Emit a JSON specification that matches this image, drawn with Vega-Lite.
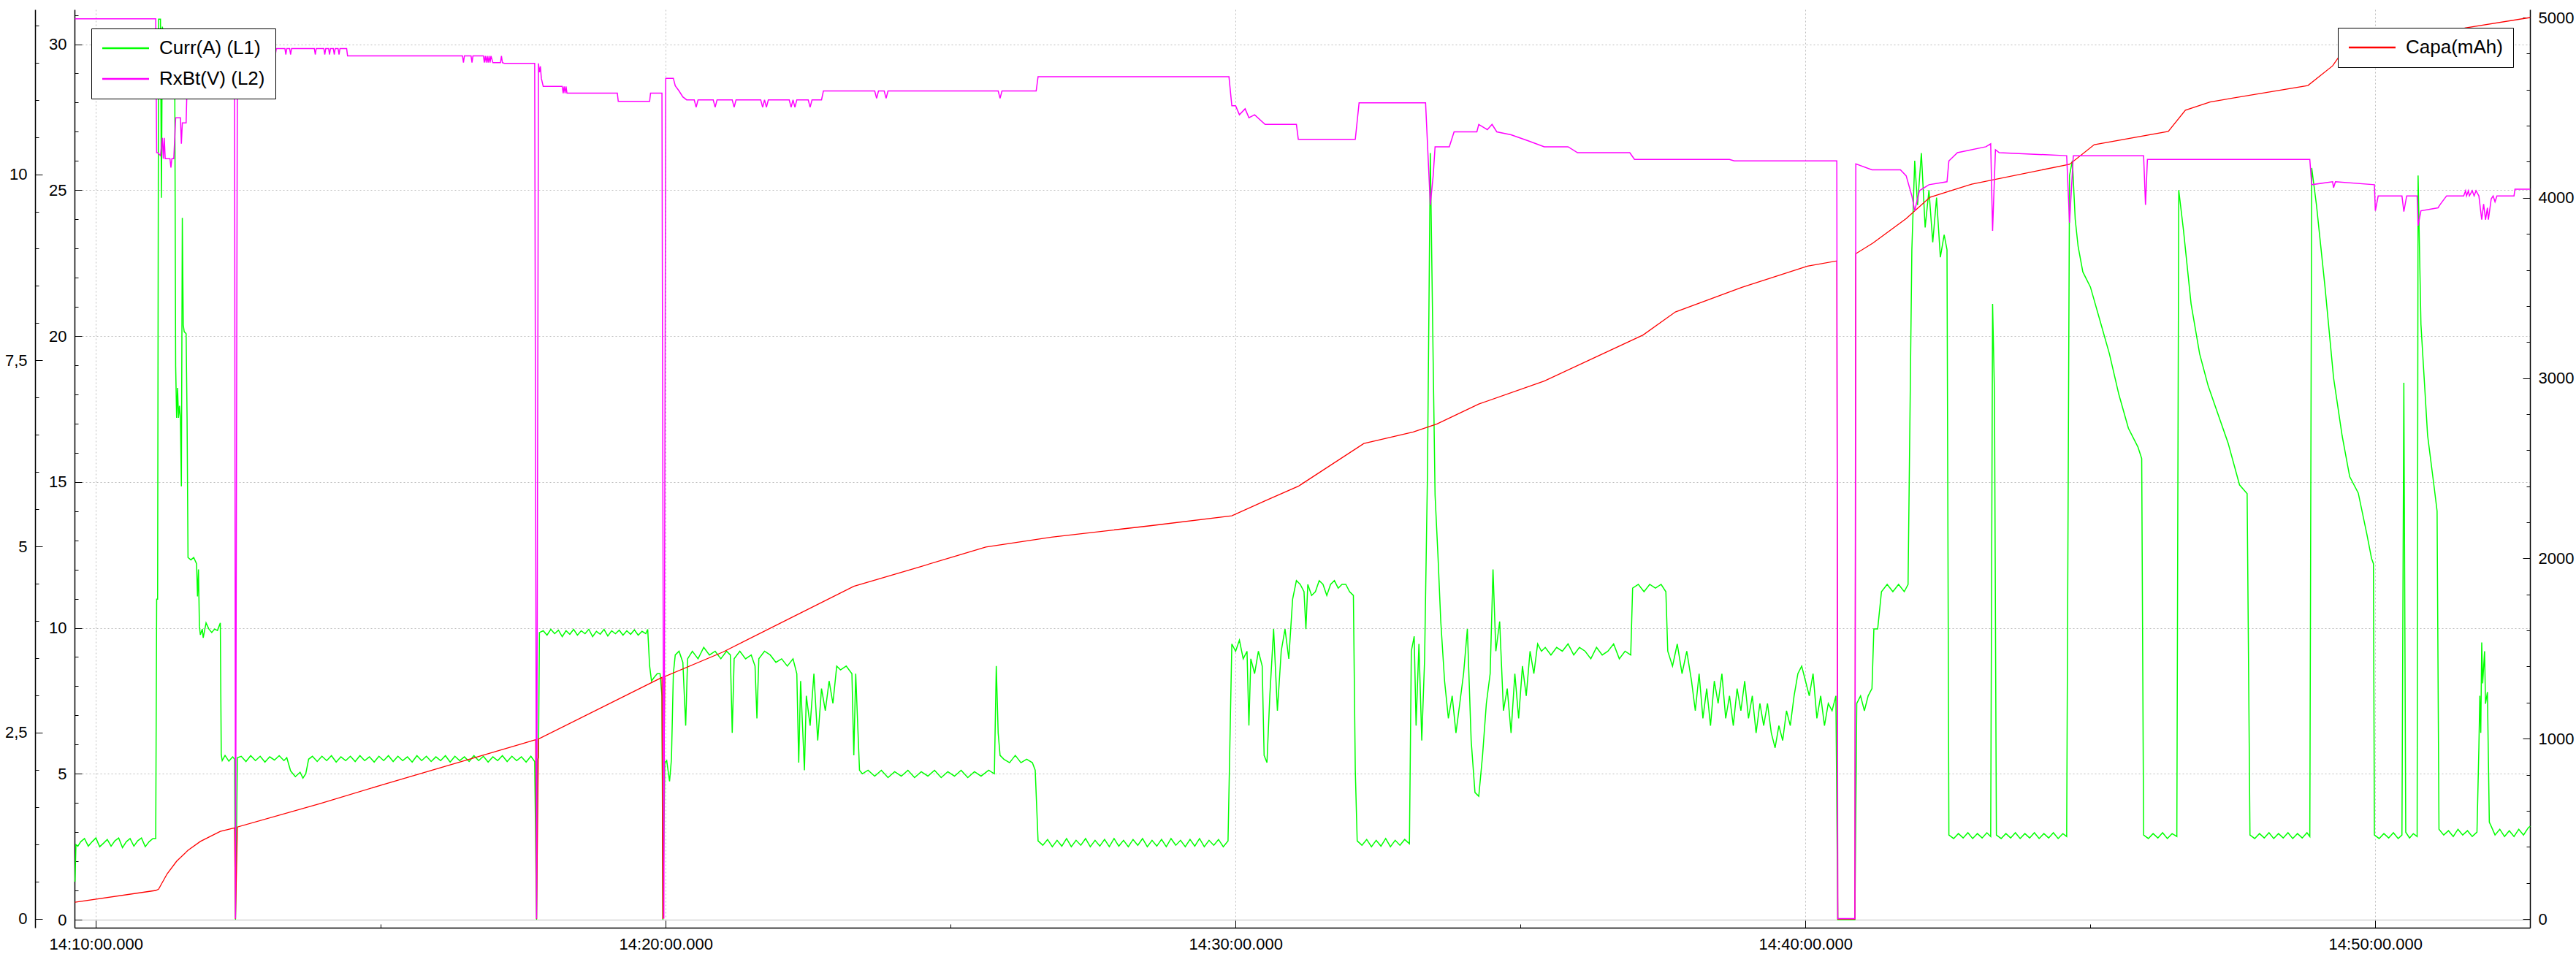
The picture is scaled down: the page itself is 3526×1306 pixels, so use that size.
{
  "$schema": "https://vega.github.io/schema/vega-lite/v6.json",
  "width": 3361,
  "height": 1257,
  "autosize": {"type": "none"},
  "padding": {"left": 102, "top": 13, "right": 63, "bottom": 36},
  "background": "white",
  "config": {
    "view": {"stroke": null},
    "axis": {"labelFont": "Liberation Sans", "labelFontSize": 22, "labelColor": "black", "domainColor": "black", "tickColor": "black", "domainWidth": 1.5, "tickWidth": 1, "labelOverlap": false, "labelFlush": false, "title": null},
    "legend": {"labelFont": "Liberation Sans", "labelFontSize": 26, "labelColor": "black"}
  },
  "datasets": {
    "curr": [
      {"time":"14:09:38","curr":1.30},{"time":"14:09:39","curr":2.57},{"time":"14:09:41","curr":2.52},{"time":"14:09:44","curr":2.67},{"time":"14:09:48","curr":2.78},{"time":"14:09:52","curr":2.52},{"time":"14:09:56","curr":2.67},{"time":"14:10:00","curr":2.80},{"time":"14:10:04","curr":2.50},{"time":"14:10:08","curr":2.62},{"time":"14:10:12","curr":2.75},{"time":"14:10:16","curr":2.52},{"time":"14:10:20","curr":2.70},{"time":"14:10:24","curr":2.80},{"time":"14:10:28","curr":2.47},{"time":"14:10:32","curr":2.67},{"time":"14:10:36","curr":2.78},{"time":"14:10:40","curr":2.52},{"time":"14:10:44","curr":2.70},{"time":"14:10:48","curr":2.80},{"time":"14:10:52","curr":2.50},{"time":"14:10:56","curr":2.67},{"time":"14:11:00","curr":2.78},{"time":"14:11:03","curr":2.78},
      {"time":"14:11:04","curr":10.98},{"time":"14:11:05","curr":10.98},{"time":"14:11:06","curr":30.86},{"time":"14:11:08","curr":30.86},{"time":"14:11:09","curr":24.74},{"time":"14:11:10","curr":30.6},{"time":"14:11:12","curr":30.09},{"time":"14:11:16","curr":29.6},{"time":"14:11:20","curr":30.09},{"time":"14:11:23","curr":29.33},{"time":"14:11:24","curr":18.96},{"time":"14:11:25","curr":17.2},{"time":"14:11:26","curr":18.22},{"time":"14:11:27","curr":17.2},{"time":"14:11:28","curr":17.61},{"time":"14:11:29","curr":17.2},{"time":"14:11:30","curr":14.85},{"time":"14:11:31","curr":24.05},{"time":"14:11:32","curr":20.38},{"time":"14:11:33","curr":20.15},{"time":"14:11:35","curr":20.08},{"time":"14:11:36","curr":17.2},{"time":"14:11:37","curr":12.41},{"time":"14:11:40","curr":12.33},{"time":"14:11:43","curr":12.41},{"time":"14:11:46","curr":12.2},{"time":"14:11:47","curr":11.08},{"time":"14:11:48","curr":12.0},{"time":"14:11:49","curr":10.06},{"time":"14:11:50","curr":9.76},{"time":"14:11:52","curr":9.96},{"time":"14:11:53","curr":9.66},{"time":"14:11:56","curr":10.17},{"time":"14:11:59","curr":9.96},{"time":"14:12:02","curr":9.84},{"time":"14:12:05","curr":9.96},{"time":"14:12:08","curr":9.91},{"time":"14:12:11","curr":10.17},
      {"time":"14:12:12","curr":5.66},{"time":"14:12:13","curr":5.45},{"time":"14:12:16","curr":5.63},{"time":"14:12:20","curr":5.43},{"time":"14:12:24","curr":5.58},{"time":"14:12:26","curr":5.5},{"time":"14:12:27","curr":0},{"time":"14:12:29","curr":5.55},{"time":"14:12:33","curr":5.6},{"time":"14:12:38","curr":5.42},{"time":"14:12:43","curr":5.62},{"time":"14:12:48","curr":5.45},{"time":"14:12:53","curr":5.6},{"time":"14:12:58","curr":5.4},{"time":"14:13:03","curr":5.58},{"time":"14:13:08","curr":5.47},{"time":"14:13:13","curr":5.62},{"time":"14:13:18","curr":5.45},{"time":"14:13:21","curr":5.55},{"time":"14:13:25","curr":5.1},{"time":"14:13:30","curr":4.9},{"time":"14:13:35","curr":5.05},{"time":"14:13:38","curr":4.85},{"time":"14:13:41","curr":5.0},{"time":"14:13:44","curr":5.5},{"time":"14:13:48","curr":5.6},{"time":"14:13:53","curr":5.42},{"time":"14:13:58","curr":5.6},{"time":"14:14:03","curr":5.45},{"time":"14:14:08","curr":5.62},{"time":"14:14:13","curr":5.4},{"time":"14:14:18","curr":5.58},{"time":"14:14:23","curr":5.45},{"time":"14:14:28","curr":5.6},{"time":"14:14:33","curr":5.42},{"time":"14:14:38","curr":5.62},{"time":"14:14:43","curr":5.45},{"time":"14:14:48","curr":5.58},{"time":"14:14:53","curr":5.4},{"time":"14:14:58","curr":5.6},{"time":"14:15:03","curr":5.45},{"time":"14:15:08","curr":5.62},{"time":"14:15:13","curr":5.42},{"time":"14:15:18","curr":5.6},{"time":"14:15:23","curr":5.45},{"time":"14:15:28","curr":5.58},{"time":"14:15:33","curr":5.4},{"time":"14:15:38","curr":5.62},{"time":"14:15:43","curr":5.45},{"time":"14:15:48","curr":5.6},{"time":"14:15:53","curr":5.42},{"time":"14:15:58","curr":5.58},{"time":"14:16:03","curr":5.45},{"time":"14:16:08","curr":5.62},{"time":"14:16:13","curr":5.4},{"time":"14:16:18","curr":5.6},{"time":"14:16:23","curr":5.45},{"time":"14:16:28","curr":5.58},{"time":"14:16:33","curr":5.42},{"time":"14:16:38","curr":5.62},{"time":"14:16:43","curr":5.45},{"time":"14:16:48","curr":5.6},{"time":"14:16:53","curr":5.4},{"time":"14:16:58","curr":5.58},{"time":"14:17:03","curr":5.45},{"time":"14:17:08","curr":5.62},{"time":"14:17:13","curr":5.42},{"time":"14:17:18","curr":5.6},{"time":"14:17:23","curr":5.45},{"time":"14:17:28","curr":5.58},{"time":"14:17:33","curr":5.4},{"time":"14:17:38","curr":5.6},{"time":"14:17:42","curr":5.42},{"time":"14:17:44","curr":0},{"time":"14:17:45","curr":5.5},{"time":"14:17:46","curr":5.55},
      {"time":"14:17:47","curr":9.84},{"time":"14:17:51","curr":9.9},{"time":"14:17:55","curr":9.75},{"time":"14:17:59","curr":9.95},{"time":"14:18:03","curr":9.8},{"time":"14:18:07","curr":9.92},{"time":"14:18:11","curr":9.7},{"time":"14:18:15","curr":9.9},{"time":"14:18:19","curr":9.78},{"time":"14:18:23","curr":9.95},{"time":"14:18:27","curr":9.75},{"time":"14:18:31","curr":9.9},{"time":"14:18:35","curr":9.8},{"time":"14:18:39","curr":9.95},{"time":"14:18:43","curr":9.7},{"time":"14:18:47","curr":9.88},{"time":"14:18:51","curr":9.78},{"time":"14:18:55","curr":9.95},{"time":"14:18:59","curr":9.72},{"time":"14:19:03","curr":9.9},{"time":"14:19:07","curr":9.8},{"time":"14:19:11","curr":9.92},{"time":"14:19:15","curr":9.75},{"time":"14:19:19","curr":9.9},{"time":"14:19:23","curr":9.78},{"time":"14:19:27","curr":9.93},{"time":"14:19:31","curr":9.75},{"time":"14:19:35","curr":9.88},{"time":"14:19:39","curr":9.8},{"time":"14:19:41","curr":9.95},{"time":"14:19:43","curr":8.7},{"time":"14:19:45","curr":8.18},{"time":"14:19:48","curr":8.31},{"time":"14:19:51","curr":8.43},{"time":"14:19:54","curr":8.43},{"time":"14:19:56","curr":7.67},{"time":"14:19:57","curr":0},{"time":"14:19:59","curr":5.38},{"time":"14:20:01","curr":5.45},{"time":"14:20:04","curr":4.74},{"time":"14:20:06","curr":5.5},
      {"time":"14:20:08","curr":8.43},{"time":"14:20:10","curr":9.07},{"time":"14:20:14","curr":9.2},{"time":"14:20:18","curr":8.82},{"time":"14:20:21","curr":6.65},{"time":"14:20:23","curr":8.94},{"time":"14:20:28","curr":9.2},{"time":"14:20:34","curr":8.94},{"time":"14:20:40","curr":9.33},{"time":"14:20:46","curr":9.07},{"time":"14:20:52","curr":9.2},{"time":"14:20:58","curr":8.94},{"time":"14:21:04","curr":9.2},{"time":"14:21:08","curr":9.07},{"time":"14:21:10","curr":6.4},{"time":"14:21:12","curr":8.94},{"time":"14:21:18","curr":9.2},{"time":"14:21:24","curr":8.94},{"time":"14:21:30","curr":9.07},{"time":"14:21:34","curr":8.69},{"time":"14:21:36","curr":6.9},{"time":"14:21:38","curr":8.94},{"time":"14:21:44","curr":9.2},{"time":"14:21:50","curr":9.07},{"time":"14:21:56","curr":8.82},{"time":"14:22:02","curr":8.94},{"time":"14:22:08","curr":8.69},{"time":"14:22:14","curr":8.94},{"time":"14:22:18","curr":8.43},{"time":"14:22:20","curr":5.38},{"time":"14:22:22","curr":8.18},{"time":"14:22:26","curr":5.12},{"time":"14:22:28","curr":7.67},{"time":"14:22:32","curr":6.65},{"time":"14:22:36","curr":8.43},{"time":"14:22:40","curr":6.14},{"time":"14:22:44","curr":7.92},{"time":"14:22:48","curr":7.16},{"time":"14:22:52","curr":8.18},{"time":"14:22:56","curr":7.41},{"time":"14:23:00","curr":8.69},{"time":"14:23:04","curr":8.56},{"time":"14:23:10","curr":8.69},{"time":"14:23:16","curr":8.43},{"time":"14:23:18","curr":5.63},{"time":"14:23:20","curr":8.43},{"time":"14:23:24","curr":5.12},
      {"time":"14:23:27","curr":5.0},{"time":"14:23:33","curr":5.12},{"time":"14:23:40","curr":4.92},{"time":"14:23:47","curr":5.12},{"time":"14:23:54","curr":4.87},{"time":"14:24:01","curr":5.07},{"time":"14:24:08","curr":4.92},{"time":"14:24:15","curr":5.12},{"time":"14:24:22","curr":4.87},{"time":"14:24:29","curr":5.07},{"time":"14:24:36","curr":4.92},{"time":"14:24:43","curr":5.12},{"time":"14:24:50","curr":4.87},{"time":"14:24:57","curr":5.07},{"time":"14:25:04","curr":4.92},{"time":"14:25:11","curr":5.12},{"time":"14:25:18","curr":4.87},{"time":"14:25:25","curr":5.07},{"time":"14:25:32","curr":4.92},{"time":"14:25:40","curr":5.12},{"time":"14:25:46","curr":5.0},{"time":"14:25:48","curr":8.69},{"time":"14:25:50","curr":6.4},{"time":"14:25:52","curr":5.63},{"time":"14:25:56","curr":5.5},{"time":"14:26:02","curr":5.38},{"time":"14:26:08","curr":5.63},{"time":"14:26:14","curr":5.38},{"time":"14:26:20","curr":5.5},{"time":"14:26:26","curr":5.38},{"time":"14:26:29","curr":5.12},
      {"time":"14:26:32","curr":2.7},{"time":"14:26:37","curr":2.55},{"time":"14:26:42","curr":2.75},{"time":"14:26:47","curr":2.5},{"time":"14:26:52","curr":2.72},{"time":"14:26:57","curr":2.52},{"time":"14:27:02","curr":2.78},{"time":"14:27:07","curr":2.5},{"time":"14:27:12","curr":2.72},{"time":"14:27:17","curr":2.55},{"time":"14:27:22","curr":2.78},{"time":"14:27:27","curr":2.5},{"time":"14:27:32","curr":2.72},{"time":"14:27:37","curr":2.52},{"time":"14:27:42","curr":2.75},{"time":"14:27:47","curr":2.5},{"time":"14:27:52","curr":2.78},{"time":"14:27:57","curr":2.52},{"time":"14:28:02","curr":2.72},{"time":"14:28:07","curr":2.5},{"time":"14:28:12","curr":2.75},{"time":"14:28:17","curr":2.55},{"time":"14:28:22","curr":2.78},{"time":"14:28:27","curr":2.5},{"time":"14:28:32","curr":2.72},{"time":"14:28:37","curr":2.52},{"time":"14:28:42","curr":2.75},{"time":"14:28:47","curr":2.5},{"time":"14:28:52","curr":2.78},{"time":"14:28:57","curr":2.55},{"time":"14:29:02","curr":2.72},{"time":"14:29:07","curr":2.5},{"time":"14:29:12","curr":2.75},{"time":"14:29:17","curr":2.52},{"time":"14:29:22","curr":2.78},{"time":"14:29:27","curr":2.5},{"time":"14:29:32","curr":2.72},{"time":"14:29:37","curr":2.55},{"time":"14:29:42","curr":2.75},{"time":"14:29:47","curr":2.5},{"time":"14:29:52","curr":2.7},
      {"time":"14:29:56","curr":9.45},{"time":"14:30:00","curr":9.2},{"time":"14:30:04","curr":9.58},{"time":"14:30:08","curr":8.94},{"time":"14:30:12","curr":9.2},{"time":"14:30:14","curr":6.65},{"time":"14:30:16","curr":8.94},{"time":"14:30:20","curr":8.43},{"time":"14:30:24","curr":9.2},{"time":"14:30:28","curr":8.69},{"time":"14:30:30","curr":5.63},{"time":"14:30:33","curr":5.38},{"time":"14:30:36","curr":7.67},{"time":"14:30:40","curr":9.96},{"time":"14:30:44","curr":7.16},{"time":"14:30:48","curr":9.2},{"time":"14:30:52","curr":9.96},{"time":"14:30:56","curr":8.94},{"time":"14:31:00","curr":10.98},{"time":"14:31:04","curr":11.62},{"time":"14:31:08","curr":11.49},{"time":"14:31:12","curr":11.24},{"time":"14:31:14","curr":9.96},{"time":"14:31:16","curr":11.49},{"time":"14:31:20","curr":11.11},{"time":"14:31:24","curr":11.24},{"time":"14:31:28","curr":11.62},{"time":"14:31:32","curr":11.49},{"time":"14:31:36","curr":11.11},{"time":"14:31:40","curr":11.49},{"time":"14:31:44","curr":11.62},{"time":"14:31:48","curr":11.36},{"time":"14:31:52","curr":11.49},{"time":"14:31:56","curr":11.49},{"time":"14:32:00","curr":11.24},{"time":"14:32:04","curr":11.11},{"time":"14:32:06","curr":5.12},
      {"time":"14:32:08","curr":2.7},{"time":"14:32:13","curr":2.55},{"time":"14:32:18","curr":2.75},{"time":"14:32:23","curr":2.5},{"time":"14:32:28","curr":2.72},{"time":"14:32:33","curr":2.52},{"time":"14:32:38","curr":2.78},{"time":"14:32:43","curr":2.5},{"time":"14:32:48","curr":2.72},{"time":"14:32:53","curr":2.55},{"time":"14:32:58","curr":2.75},{"time":"14:33:03","curr":2.6},
      {"time":"14:33:05","curr":9.2},{"time":"14:33:08","curr":9.71},{"time":"14:33:10","curr":6.65},{"time":"14:33:13","curr":9.45},{"time":"14:33:16","curr":6.14},{"time":"14:33:19","curr":8.94},{"time":"14:33:22","curr":15.31},{"time":"14:33:25","curr":26.27},{"time":"14:33:28","curr":19.13},{"time":"14:33:30","curr":14.55},{"time":"14:33:33","curr":12.51},{"time":"14:33:36","curr":10.22},{"time":"14:33:40","curr":8.18},{"time":"14:33:44","curr":6.9},{"time":"14:33:48","curr":7.67},{"time":"14:33:52","curr":6.4},{"time":"14:33:56","curr":7.41},{"time":"14:34:00","curr":8.43},{"time":"14:34:04","curr":9.96},{"time":"14:34:08","curr":6.14},{"time":"14:34:12","curr":4.36},{"time":"14:34:16","curr":4.23},{"time":"14:34:20","curr":5.63},{"time":"14:34:24","curr":7.41},{"time":"14:34:28","curr":8.43},{"time":"14:34:31","curr":12.0},{"time":"14:34:34","curr":9.2},{"time":"14:34:38","curr":10.22},{"time":"14:34:42","curr":7.16},{"time":"14:34:46","curr":7.92},{"time":"14:34:50","curr":6.4},{"time":"14:34:54","curr":8.43},{"time":"14:34:58","curr":6.9},{"time":"14:35:02","curr":8.69},{"time":"14:35:06","curr":7.67},{"time":"14:35:10","curr":9.2},{"time":"14:35:14","curr":8.43},{"time":"14:35:18","curr":9.45},{"time":"14:35:22","curr":9.2},{"time":"14:35:26","curr":9.33},{"time":"14:35:32","curr":9.07},{"time":"14:35:38","curr":9.33},{"time":"14:35:44","curr":9.2},{"time":"14:35:50","curr":9.45},{"time":"14:35:56","curr":9.07},{"time":"14:36:02","curr":9.33},{"time":"14:36:08","curr":9.2},{"time":"14:36:14","curr":8.94},{"time":"14:36:20","curr":9.33},{"time":"14:36:26","curr":9.07},{"time":"14:36:32","curr":9.2},{"time":"14:36:38","curr":9.45},{"time":"14:36:44","curr":8.94},{"time":"14:36:50","curr":9.2},{"time":"14:36:56","curr":9.07},{"time":"14:36:58","curr":11.36},{"time":"14:37:04","curr":11.49},{"time":"14:37:10","curr":11.24},{"time":"14:37:16","curr":11.49},{"time":"14:37:22","curr":11.36},{"time":"14:37:28","curr":11.49},{"time":"14:37:33","curr":11.24},{"time":"14:37:35","curr":9.2},{"time":"14:37:40","curr":8.69},{"time":"14:37:45","curr":9.45},{"time":"14:37:50","curr":8.43},{"time":"14:37:55","curr":9.2},{"time":"14:38:00","curr":8.18},{"time":"14:38:04","curr":7.16},{"time":"14:38:08","curr":8.43},{"time":"14:38:12","curr":6.9},{"time":"14:38:16","curr":7.92},{"time":"14:38:20","curr":6.65},{"time":"14:38:24","curr":8.18},{"time":"14:38:28","curr":7.41},{"time":"14:38:32","curr":8.43},{"time":"14:38:36","curr":6.9},{"time":"14:38:40","curr":7.67},{"time":"14:38:44","curr":6.65},{"time":"14:38:48","curr":7.92},{"time":"14:38:52","curr":7.16},{"time":"14:38:56","curr":8.18},{"time":"14:39:00","curr":6.9},{"time":"14:39:04","curr":7.67},{"time":"14:39:08","curr":6.4},{"time":"14:39:12","curr":7.41},{"time":"14:39:16","curr":6.65},{"time":"14:39:20","curr":7.41},{"time":"14:39:24","curr":6.4},{"time":"14:39:28","curr":5.89},{"time":"14:39:32","curr":6.65},{"time":"14:39:36","curr":6.14},{"time":"14:39:40","curr":7.16},{"time":"14:39:44","curr":6.65},{"time":"14:39:48","curr":7.67},{"time":"14:39:52","curr":8.43},{"time":"14:39:56","curr":8.69},{"time":"14:40:00","curr":8.18},{"time":"14:40:04","curr":7.67},{"time":"14:40:08","curr":8.43},{"time":"14:40:12","curr":6.9},{"time":"14:40:16","curr":7.67},{"time":"14:40:20","curr":6.65},{"time":"14:40:24","curr":7.41},{"time":"14:40:28","curr":7.16},{"time":"14:40:32","curr":7.67},{"time":"14:40:34","curr":0},{"time":"14:40:52","curr":0},
      {"time":"14:40:54","curr":7.41},{"time":"14:40:58","curr":7.67},{"time":"14:41:02","curr":7.16},{"time":"14:41:06","curr":7.67},{"time":"14:41:10","curr":7.92},{"time":"14:41:12","curr":9.96},{"time":"14:41:16","curr":9.96},{"time":"14:41:20","curr":11.24},{"time":"14:41:26","curr":11.49},{"time":"14:41:32","curr":11.24},{"time":"14:41:38","curr":11.49},{"time":"14:41:44","curr":11.24},{"time":"14:41:48","curr":11.49},{"time":"14:41:52","curr":22.96},{"time":"14:41:55","curr":26.01},{"time":"14:41:58","curr":24.49},{"time":"14:42:02","curr":26.27},{"time":"14:42:06","curr":23.72},{"time":"14:42:10","curr":25.0},{"time":"14:42:14","curr":23.21},{"time":"14:42:18","curr":24.74},{"time":"14:42:22","curr":22.7},{"time":"14:42:26","curr":23.47},{"time":"14:42:29","curr":22.96},
      {"time":"14:42:31","curr":2.9},{"time":"14:42:36","curr":2.78},{"time":"14:42:41","curr":2.95},{"time":"14:42:46","curr":2.8},{"time":"14:42:51","curr":2.98},{"time":"14:42:56","curr":2.78},{"time":"14:43:01","curr":2.95},{"time":"14:43:06","curr":2.8},{"time":"14:43:11","curr":2.98},{"time":"14:43:15","curr":2.85},{"time":"14:43:17","curr":21.1},{"time":"14:43:19","curr":18.0},{"time":"14:43:21","curr":2.9},{"time":"14:43:26","curr":2.78},{"time":"14:43:31","curr":2.95},{"time":"14:43:36","curr":2.8},{"time":"14:43:41","curr":2.98},{"time":"14:43:46","curr":2.78},{"time":"14:43:51","curr":2.95},{"time":"14:43:56","curr":2.8},{"time":"14:44:01","curr":2.98},{"time":"14:44:06","curr":2.78},{"time":"14:44:11","curr":2.95},{"time":"14:44:16","curr":2.8},{"time":"14:44:21","curr":2.98},{"time":"14:44:26","curr":2.78},{"time":"14:44:31","curr":2.95},{"time":"14:44:35","curr":2.85},
      {"time":"14:44:38","curr":25.5},{"time":"14:44:41","curr":26.01},{"time":"14:44:44","curr":24.0},{"time":"14:44:47","curr":23.08},{"time":"14:44:52","curr":22.2},{"time":"14:45:00","curr":21.68},{"time":"14:45:10","curr":20.54},{"time":"14:45:20","curr":19.39},{"time":"14:45:30","curr":17.99},{"time":"14:45:40","curr":16.84},{"time":"14:45:50","curr":16.2},{"time":"14:45:54","curr":15.8},{"time":"14:45:56","curr":2.9},{"time":"14:46:01","curr":2.78},{"time":"14:46:06","curr":2.95},{"time":"14:46:11","curr":2.8},{"time":"14:46:16","curr":2.98},{"time":"14:46:21","curr":2.78},{"time":"14:46:26","curr":2.95},{"time":"14:46:31","curr":2.85},
      {"time":"14:46:33","curr":25.0},{"time":"14:46:38","curr":23.62},{"time":"14:46:46","curr":21.1},{"time":"14:46:55","curr":19.39},{"time":"14:47:04","curr":18.29},{"time":"14:47:13","curr":17.45},{"time":"14:47:25","curr":16.33},{"time":"14:47:37","curr":14.9},{"time":"14:47:45","curr":14.6},{"time":"14:47:48","curr":2.9},{"time":"14:47:53","curr":2.78},{"time":"14:47:58","curr":2.95},{"time":"14:48:03","curr":2.8},{"time":"14:48:08","curr":2.98},{"time":"14:48:13","curr":2.78},{"time":"14:48:18","curr":2.95},{"time":"14:48:23","curr":2.8},{"time":"14:48:28","curr":2.98},{"time":"14:48:33","curr":2.78},{"time":"14:48:38","curr":2.95},{"time":"14:48:43","curr":2.8},{"time":"14:48:48","curr":2.98},{"time":"14:48:51","curr":2.85},
      {"time":"14:48:53","curr":25.76},{"time":"14:48:58","curr":24.49},{"time":"14:49:07","curr":21.68},{"time":"14:49:16","curr":18.57},{"time":"14:49:25","curr":16.59},{"time":"14:49:33","curr":15.18},{"time":"14:49:42","curr":14.62},{"time":"14:49:51","curr":13.22},{"time":"14:49:56","curr":12.38},{"time":"14:49:58","curr":12.2},{"time":"14:49:59","curr":2.9},{"time":"14:50:04","curr":2.78},{"time":"14:50:09","curr":2.95},{"time":"14:50:14","curr":2.8},{"time":"14:50:19","curr":2.98},{"time":"14:50:24","curr":2.78},{"time":"14:50:28","curr":2.9},{"time":"14:50:30","curr":18.4},{"time":"14:50:32","curr":3.0},{"time":"14:50:36","curr":2.8},{"time":"14:50:40","curr":2.95},{"time":"14:50:44","curr":2.85},
      {"time":"14:50:45","curr":25.5},{"time":"14:50:48","curr":20.4},{"time":"14:50:55","curr":16.6},{"time":"14:51:02","curr":14.8},{"time":"14:51:05","curr":14.0},{"time":"14:51:07","curr":3.1},{"time":"14:51:12","curr":2.9},{"time":"14:51:17","curr":3.05},{"time":"14:51:22","curr":2.85},{"time":"14:51:27","curr":3.1},{"time":"14:51:32","curr":2.9},{"time":"14:51:37","curr":3.05},{"time":"14:51:42","curr":2.85},{"time":"14:51:47","curr":3.0},{"time":"14:51:49","curr":5.89},{"time":"14:51:50","curr":7.67},{"time":"14:51:51","curr":6.4},{"time":"14:51:52","curr":9.5},{"time":"14:51:53","curr":8.1},{"time":"14:51:55","curr":9.2},{"time":"14:51:56","curr":7.4},{"time":"14:51:58","curr":7.8},{"time":"14:52:00","curr":3.34},{"time":"14:52:02","curr":3.2},{"time":"14:52:06","curr":2.9},{"time":"14:52:11","curr":3.1},{"time":"14:52:16","curr":2.85},{"time":"14:52:21","curr":3.05},{"time":"14:52:26","curr":2.85},{"time":"14:52:31","curr":3.1},{"time":"14:52:36","curr":2.9},{"time":"14:52:41","curr":3.15},{"time":"14:52:43","curr":3.2}
    ],
    "rxbt": [
      {"time":"14:09:38","rxbt":12.09},{"time":"14:11:03","rxbt":12.09},{"time":"14:11:04","rxbt":10.29},{"time":"14:11:05","rxbt":10.29},{"time":"14:11:08","rxbt":10.25},{"time":"14:11:10","rxbt":10.49},{"time":"14:11:11","rxbt":10.21},{"time":"14:11:12","rxbt":10.49},{"time":"14:11:13","rxbt":10.21},{"time":"14:11:18","rxbt":10.21},{"time":"14:11:19","rxbt":10.09},{"time":"14:11:20","rxbt":10.21},{"time":"14:11:22","rxbt":10.21},{"time":"14:11:24","rxbt":10.76},{"time":"14:11:29","rxbt":10.76},{"time":"14:11:30","rxbt":10.41},{"time":"14:11:31","rxbt":10.69},{"time":"14:11:35","rxbt":10.69},{"time":"14:11:37","rxbt":11.69},{"time":"14:12:26","rxbt":11.69},{"time":"14:12:27","rxbt":0},{"time":"14:12:29","rxbt":11.69},
      {"time":"14:13:08","rxbt":11.69},{"time":"14:13:09","rxbt":11.61},{"time":"14:13:10","rxbt":11.69},{"time":"14:13:19","rxbt":11.69},{"time":"14:13:20","rxbt":11.61},{"time":"14:13:21","rxbt":11.69},{"time":"14:13:24","rxbt":11.69},{"time":"14:13:25","rxbt":11.61},{"time":"14:13:26","rxbt":11.69},{"time":"14:13:50","rxbt":11.69},{"time":"14:13:51","rxbt":11.61},{"time":"14:13:52","rxbt":11.69},{"time":"14:14:00","rxbt":11.69},{"time":"14:14:01","rxbt":11.61},{"time":"14:14:02","rxbt":11.69},{"time":"14:14:05","rxbt":11.69},{"time":"14:14:06","rxbt":11.61},{"time":"14:14:07","rxbt":11.69},{"time":"14:14:10","rxbt":11.69},{"time":"14:14:11","rxbt":11.61},{"time":"14:14:12","rxbt":11.69},{"time":"14:14:15","rxbt":11.69},{"time":"14:14:16","rxbt":11.61},{"time":"14:14:17","rxbt":11.69},{"time":"14:14:24","rxbt":11.69},{"time":"14:14:25","rxbt":11.59},
      {"time":"14:16:26","rxbt":11.59},{"time":"14:16:27","rxbt":11.5},{"time":"14:16:28","rxbt":11.59},{"time":"14:16:35","rxbt":11.59},{"time":"14:16:36","rxbt":11.5},{"time":"14:16:37","rxbt":11.59},{"time":"14:16:48","rxbt":11.59},{"time":"14:16:49","rxbt":11.5},{"time":"14:16:50","rxbt":11.59},{"time":"14:16:51","rxbt":11.5},{"time":"14:16:52","rxbt":11.59},{"time":"14:16:53","rxbt":11.5},{"time":"14:16:54","rxbt":11.59},{"time":"14:16:55","rxbt":11.5},{"time":"14:16:56","rxbt":11.59},{"time":"14:16:58","rxbt":11.5},{"time":"14:17:00","rxbt":11.5},{"time":"14:17:06","rxbt":11.5},{"time":"14:17:07","rxbt":11.59},{"time":"14:17:08","rxbt":11.5},{"time":"14:17:10","rxbt":11.49},{"time":"14:17:42","rxbt":11.49},{"time":"14:17:44","rxbt":0},{"time":"14:17:46","rxbt":11.49},{"time":"14:17:47","rxbt":11.37},{"time":"14:17:48","rxbt":11.45},{"time":"14:17:49","rxbt":11.29},{"time":"14:17:51","rxbt":11.18},{"time":"14:18:11","rxbt":11.18},{"time":"14:18:12","rxbt":11.09},{"time":"14:18:13","rxbt":11.18},{"time":"14:18:14","rxbt":11.09},{"time":"14:18:15","rxbt":11.18},{"time":"14:18:16","rxbt":11.09},{"time":"14:19:09","rxbt":11.09},{"time":"14:19:10","rxbt":10.98},{"time":"14:19:43","rxbt":10.98},{"time":"14:19:44","rxbt":11.09},{"time":"14:19:56","rxbt":11.09},{"time":"14:19:58","rxbt":0},{"time":"14:20:00","rxbt":11.29},
      {"time":"14:20:08","rxbt":11.29},{"time":"14:20:10","rxbt":11.19},{"time":"14:20:14","rxbt":11.12},{"time":"14:20:18","rxbt":11.04},{"time":"14:20:22","rxbt":11.0},{"time":"14:20:30","rxbt":11.0},{"time":"14:20:32","rxbt":10.9},{"time":"14:20:34","rxbt":11.0},{"time":"14:20:50","rxbt":11.0},{"time":"14:20:52","rxbt":10.9},{"time":"14:20:54","rxbt":11.0},{"time":"14:21:10","rxbt":11.0},{"time":"14:21:12","rxbt":10.9},{"time":"14:21:14","rxbt":11.0},{"time":"14:21:40","rxbt":11.0},{"time":"14:21:42","rxbt":10.9},{"time":"14:21:44","rxbt":11.0},{"time":"14:21:46","rxbt":10.9},{"time":"14:21:48","rxbt":11.0},{"time":"14:22:10","rxbt":11.0},{"time":"14:22:12","rxbt":10.9},{"time":"14:22:14","rxbt":11.0},{"time":"14:22:16","rxbt":10.9},{"time":"14:22:18","rxbt":11.0},{"time":"14:22:30","rxbt":11.0},{"time":"14:22:32","rxbt":10.9},{"time":"14:22:34","rxbt":11.0},{"time":"14:22:44","rxbt":11.0},{"time":"14:22:46","rxbt":11.12},{"time":"14:23:40","rxbt":11.12},{"time":"14:23:42","rxbt":11.02},{"time":"14:23:44","rxbt":11.12},{"time":"14:23:50","rxbt":11.12},{"time":"14:23:52","rxbt":11.02},{"time":"14:23:54","rxbt":11.12},{"time":"14:25:50","rxbt":11.12},{"time":"14:25:52","rxbt":11.02},{"time":"14:25:54","rxbt":11.12},{"time":"14:26:30","rxbt":11.12},{"time":"14:26:32","rxbt":11.31},{"time":"14:29:53","rxbt":11.31},
      {"time":"14:29:56","rxbt":10.92},{"time":"14:30:00","rxbt":10.92},{"time":"14:30:04","rxbt":10.8},{"time":"14:30:10","rxbt":10.88},{"time":"14:30:14","rxbt":10.76},{"time":"14:30:20","rxbt":10.8},{"time":"14:30:31","rxbt":10.67},{"time":"14:31:04","rxbt":10.67},{"time":"14:31:06","rxbt":10.47},{"time":"14:32:06","rxbt":10.47},{"time":"14:32:10","rxbt":10.96},{"time":"14:33:20","rxbt":10.96},{"time":"14:33:25","rxbt":9.59},{"time":"14:33:28","rxbt":9.98},{"time":"14:33:30","rxbt":10.37},{"time":"14:33:45","rxbt":10.37},{"time":"14:33:50","rxbt":10.57},{"time":"14:34:14","rxbt":10.57},{"time":"14:34:16","rxbt":10.67},{"time":"14:34:25","rxbt":10.6},{"time":"14:34:30","rxbt":10.67},{"time":"14:34:35","rxbt":10.57},{"time":"14:34:50","rxbt":10.53},{"time":"14:35:08","rxbt":10.45},{"time":"14:35:25","rxbt":10.37},{"time":"14:35:50","rxbt":10.37},{"time":"14:36:00","rxbt":10.29},{"time":"14:36:55","rxbt":10.29},{"time":"14:37:00","rxbt":10.2},{"time":"14:38:40","rxbt":10.2},{"time":"14:38:45","rxbt":10.18},{"time":"14:40:33","rxbt":10.18},{"time":"14:40:34","rxbt":0},{"time":"14:40:52","rxbt":0},{"time":"14:40:53","rxbt":10.14},{"time":"14:41:10","rxbt":10.06},{"time":"14:41:40","rxbt":10.06},{"time":"14:41:46","rxbt":9.98},{"time":"14:41:52","rxbt":9.71},{"time":"14:41:55","rxbt":9.51},{"time":"14:42:00","rxbt":9.78},{"time":"14:42:10","rxbt":9.86},{"time":"14:42:29","rxbt":9.9},{"time":"14:42:31","rxbt":10.18},{"time":"14:42:40","rxbt":10.29},{"time":"14:43:10","rxbt":10.37},{"time":"14:43:15","rxbt":10.41},{"time":"14:43:17","rxbt":9.24},{"time":"14:43:20","rxbt":10.33},{"time":"14:43:24","rxbt":10.29},{"time":"14:44:35","rxbt":10.25},{"time":"14:44:38","rxbt":9.35},{"time":"14:44:42","rxbt":10.25},{"time":"14:45:56","rxbt":10.25},{"time":"14:45:58","rxbt":9.59},{"time":"14:46:00","rxbt":10.2},{"time":"14:48:51","rxbt":10.2},{"time":"14:48:53","rxbt":9.86},{"time":"14:49:15","rxbt":9.9},{"time":"14:49:16","rxbt":9.82},{"time":"14:49:18","rxbt":9.9},{"time":"14:49:59","rxbt":9.86},{"time":"14:50:00","rxbt":9.51},{"time":"14:50:03","rxbt":9.71},{"time":"14:50:28","rxbt":9.71},{"time":"14:50:30","rxbt":9.5},{"time":"14:50:33","rxbt":9.71},{"time":"14:50:44","rxbt":9.71},{"time":"14:50:45","rxbt":9.31},{"time":"14:50:48","rxbt":9.51},{"time":"14:51:06","rxbt":9.55},{"time":"14:51:08","rxbt":9.59},{"time":"14:51:15","rxbt":9.71},{"time":"14:51:33","rxbt":9.71},{"time":"14:51:35","rxbt":9.78},{"time":"14:51:36","rxbt":9.71},{"time":"14:51:38","rxbt":9.78},{"time":"14:51:39","rxbt":9.71},{"time":"14:51:42","rxbt":9.78},{"time":"14:51:44","rxbt":9.71},{"time":"14:51:46","rxbt":9.78},{"time":"14:51:49","rxbt":9.71},{"time":"14:51:52","rxbt":9.39},{"time":"14:51:54","rxbt":9.6},{"time":"14:51:56","rxbt":9.39},{"time":"14:51:58","rxbt":9.55},{"time":"14:51:59","rxbt":9.39},{"time":"14:52:02","rxbt":9.67},{"time":"14:52:04","rxbt":9.71},{"time":"14:52:06","rxbt":9.63},{"time":"14:52:08","rxbt":9.71},{"time":"14:52:26","rxbt":9.71},{"time":"14:52:27","rxbt":9.8},{"time":"14:52:43","rxbt":9.8}
    ],
    "capa": [
      {"time":"14:09:38","capa":93},{"time":"14:11:03","capa":158},{"time":"14:11:06","capa":165},{"time":"14:11:15","capa":250},{"time":"14:11:25","capa":320},{"time":"14:11:37","capa":381},{"time":"14:11:50","capa":430},{"time":"14:12:11","capa":486},{"time":"14:12:26","capa":505},{"time":"14:12:27","capa":0},{"time":"14:12:29","capa":510},{"time":"14:13:56","capa":640},{"time":"14:15:01","capa":743},{"time":"14:17:43","capa":994},{"time":"14:17:44","capa":0},{"time":"14:17:46","capa":998},{"time":"14:19:56","capa":1340},{"time":"14:19:57","capa":0},{"time":"14:19:59","capa":1345},{"time":"14:21:00","capa":1480},{"time":"14:22:09","capa":1663},{"time":"14:23:18","capa":1845},{"time":"14:24:28","capa":1954},{"time":"14:25:37","capa":2063},{"time":"14:26:46","capa":2118},{"time":"14:28:30","capa":2181},{"time":"14:29:56","capa":2236},{"time":"14:30:31","capa":2319},{"time":"14:31:06","capa":2400},{"time":"14:32:15","capa":2637},{"time":"14:33:07","capa":2701},{"time":"14:33:32","capa":2746},{"time":"14:34:16","capa":2856},{"time":"14:35:25","capa":2984},{"time":"14:36:17","capa":3111},{"time":"14:37:09","capa":3239},{"time":"14:37:43","capa":3367},{"time":"14:38:53","capa":3503},{"time":"14:40:02","capa":3621},{"time":"14:40:33","capa":3650},{"time":"14:40:34","capa":0},{"time":"14:40:52","capa":0},{"time":"14:40:53","capa":3690},{"time":"14:41:11","capa":3749},{"time":"14:41:46","capa":3885},{"time":"14:42:11","capa":4003},{"time":"14:42:55","capa":4076},{"time":"14:44:38","capa":4186},{"time":"14:45:04","capa":4295},{"time":"14:46:22","capa":4368},{"time":"14:46:40","capa":4486},{"time":"14:47:06","capa":4532},{"time":"14:48:49","capa":4623},{"time":"14:49:15","capa":4732},{"time":"14:49:33","capa":4868},{"time":"14:51:34","capa":4942},{"time":"14:52:43","capa":5000}
    ]
  },
  "encoding": {
    "x": {
      "field": "time",
      "type": "temporal",
      "scale": {"domain": [{"year": 1900, "month": 1, "date": 1, "hours": 14, "minutes": 9, "seconds": 37, "milliseconds": 500}, {"year": 1900, "month": 1, "date": 1, "hours": 14, "minutes": 52, "seconds": 42, "milliseconds": 800}]},
      "axis": {
        "orient": "bottom",
        "values": [
          {"year": 1900, "month": 1, "date": 1, "hours": 14, "minutes": 10},
          {"year": 1900, "month": 1, "date": 1, "hours": 14, "minutes": 15},
          {"year": 1900, "month": 1, "date": 1, "hours": 14, "minutes": 20},
          {"year": 1900, "month": 1, "date": 1, "hours": 14, "minutes": 25},
          {"year": 1900, "month": 1, "date": 1, "hours": 14, "minutes": 30},
          {"year": 1900, "month": 1, "date": 1, "hours": 14, "minutes": 35},
          {"year": 1900, "month": 1, "date": 1, "hours": 14, "minutes": 40},
          {"year": 1900, "month": 1, "date": 1, "hours": 14, "minutes": 45},
          {"year": 1900, "month": 1, "date": 1, "hours": 14, "minutes": 50}
        ],
        "labelExpr": "minutes(datum.value) % 10 === 0 ? timeFormat(datum.value, '%H:%M:%S.%L') : ''",
        "tickSize": {"condition": {"test": "minutes(datum.value) % 10 === 0", "value": -10}, "value": -5},
        "labelPadding": 22,
        "grid": true,
        "gridColor": "#bdbdbd",
        "gridDash": [2, 3],
        "gridOpacity": {"condition": {"test": "minutes(datum.value) % 10 === 0", "value": 1}, "value": 0}
      }
    }
  },
  "layer": [
    {
      "data": {"name": "curr", "format": {"parse": {"time": "date:'%H:%M:%S'"}}},
      "mark": {"type": "line", "strokeWidth": 1.5, "interpolate": "linear"},
      "encoding": {
        "y": {
          "field": "curr", "type": "quantitative",
          "scale": {"domain": [-0.275, 31.19], "nice": false, "zero": false},
          "axis": {
            "orient": "left", "offset": 0,
            "values": [0,1,2,3,4,5,6,7,8,9,10,11,12,13,14,15,16,17,18,19,20,21,22,23,24,25,26,27,28,29,30,31],
            "labelExpr": "datum.value % 5 === 0 ? toString(datum.value) : ''",
            "tickSize": {"condition": {"test": "datum.value % 5 === 0", "value": -10}, "value": -5},
            "labelPadding": 21,
            "grid": true,
            "gridColor": "#bdbdbd",
            "gridDash": {"condition": {"test": "datum.value === 0", "value": []}, "value": [2, 3]},
            "gridOpacity": {"condition": {"test": "datum.value % 5 === 0", "value": 1}, "value": 0}
          }
        },
        "color": {
          "datum": "Curr(A) (L1)", "type": "nominal",
          "scale": {"domain": ["Curr(A) (L1)", "RxBt(V) (L2)"], "range": ["#00ff00", "#ff00ff"]},
          "legend": {"orient": "none", "legendX": 23, "legendY": 26, "title": null, "symbolType": "M-4,0H4", "symbolSize": 256, "symbolStrokeWidth": 2.5, "symbolOffset": 20, "labelOffset": 33, "rowPadding": 16, "padding": 14, "fillColor": "white", "strokeColor": "black", "labelBaseline": "middle"}
        }
      }
    },
    {
      "data": {"name": "capa", "format": {"parse": {"time": "date:'%H:%M:%S'"}}},
      "mark": {"type": "line", "strokeWidth": 1.3, "interpolate": "linear"},
      "encoding": {
        "y": {
          "field": "capa", "type": "quantitative",
          "scale": {"domain": [-48.6, 5044.6], "nice": false, "zero": false},
          "axis": {
            "orient": "right",
            "values": [0,200,400,600,800,1000,1200,1400,1600,1800,2000,2200,2400,2600,2800,3000,3200,3400,3600,3800,4000,4200,4400,4600,4800,5000],
            "labelExpr": "datum.value % 1000 === 0 ? toString(datum.value) : ''",
            "tickSize": {"condition": {"test": "datum.value % 1000 === 0", "value": -10}, "value": -5},
            "labelPadding": 21,
            "grid": false
          }
        },
        "stroke": {
          "datum": "Capa(mAh)", "type": "nominal",
          "scale": {"domain": ["Capa(mAh)"], "range": ["#ff0000"]},
          "legend": {"orient": "none", "legendX": 3098, "legendY": 25, "title": null, "symbolType": "M-4,0H4", "symbolSize": 256, "symbolStrokeWidth": 2.5, "symbolOffset": 20, "labelOffset": 33, "padding": 14, "fillColor": "white", "strokeColor": "black", "labelBaseline": "middle"}
        }
      }
    },
    {
      "data": {"name": "rxbt", "format": {"parse": {"time": "date:'%H:%M:%S'"}}},
      "mark": {"type": "line", "strokeWidth": 1.5, "interpolate": "linear"},
      "encoding": {
        "y": {
          "field": "rxbt", "type": "quantitative",
          "scale": {"domain": [-0.122, 12.214], "nice": false, "zero": false},
          "axis": {
            "orient": "left", "offset": 54,
            "values": [0,0.5,1,1.5,2,2.5,3,3.5,4,4.5,5,5.5,6,6.5,7,7.5,8,8.5,9,9.5,10,10.5,11,11.5,12],
            "labelExpr": "datum.value % 2.5 === 0 ? replace(toString(datum.value), '.', ',') : ''",
            "tickSize": {"condition": {"test": "datum.value % 2.5 === 0", "value": -10}, "value": -5},
            "labelPadding": 21,
            "grid": false
          }
        },
        "color": {"datum": "RxBt(V) (L2)", "type": "nominal"}
      }
    }
  ],
  "resolve": {"scale": {"y": "independent"}, "axis": {"y": "independent"}}
}
